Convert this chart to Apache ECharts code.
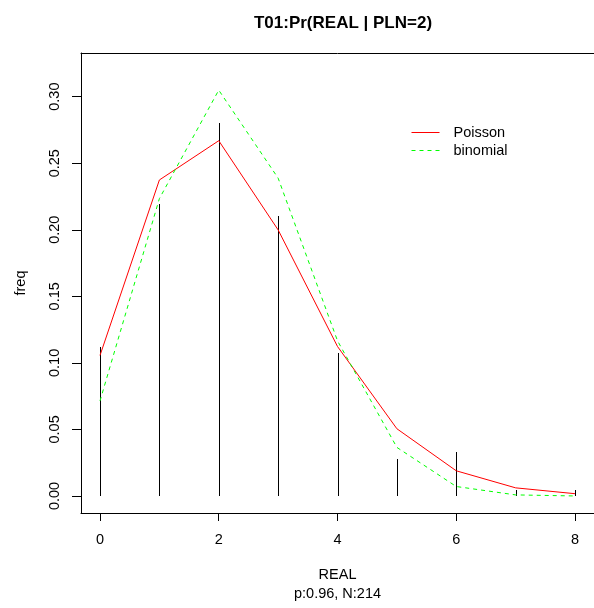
<!DOCTYPE html>
<html>
<head>
<meta charset="utf-8">
<script src="https://cdn.jsdelivr.net/npm/echarts@6/dist/echarts.min.js"></script>
<style>
html,body{margin:0;padding:0;background:#fff;}
#chart{width:594px;height:608px;}
</style>
</head>
<body>
<div id="chart"></div>
<script>
// ---- data ----
const realValues = [0, 1, 2, 3, 4, 5, 6, 7, 8];
const observedFreq = [0.1121, 0.2196, 0.2804, 0.2103, 0.1075, 0.0280, 0.0327, 0.0047, 0.0047];
const poissonFreq = [0.1056, 0.2374, 0.2669, 0.1999, 0.1123, 0.0505, 0.0189, 0.0061, 0.0017];
const binomialFreq = [0.0714, 0.2234, 0.3049, 0.2388, 0.1166, 0.0365, 0.0071, 0.0008, 0.0000];
const xTickValues = [0, 2, 4, 6, 8];
const yTickValues = [0, 0.05, 0.10, 0.15, 0.20, 0.25, 0.30];
const titleText = 'T01:Pr(REAL | PLN=2)';
const xName = 'REAL';
const xSubName = 'p:0.96, N:214';
const yName = 'freq';
const seriesNames = ['Poisson', 'binomial'];

const FONT = '"Liberation Sans", Arial, Helvetica, sans-serif';
const chart = echarts.init(document.getElementById('chart'), null, {renderer: 'canvas'});

const pair = (xs, ys) => xs.map((x, i) => [x, ys[i]]);

const option = {
  animation: false,
  backgroundColor: '#ffffff',
  textStyle: {fontFamily: FONT, color: '#000'},
  title: {
    text: titleText,
    left: 338,
    textAlign: 'center',
    top: 10,
    textStyle: {fontFamily: FONT, fontSize: 17, fontWeight: 'bold', color: '#000'}
  },
  legend: {
    data: seriesNames,
    orient: 'vertical',
    left: 406,
    top: 120,
    itemWidth: 28,
    itemHeight: 14,
    itemGap: 3,
    itemStyle: {opacity: 0},
    lineStyle: {width: 1},
    textStyle: {fontFamily: FONT, fontSize: 14.5, color: '#000', padding: [0, 0, 0, 9]}
  },
  grid: {left: 81, top: 53, width: 513, height: 460, containLabel: false},
  xAxis: [{
    type: 'value',
    min: -0.32,
    max: 8.32,
    splitLine: {show: false},
    axisLine: {show: true, onZero: false, lineStyle: {color: '#000', width: 1}},
    axisTick: {show: true, customValues: xTickValues, length: 8, lineStyle: {color: '#000'}},
    axisLabel: {customValues: xTickValues, margin: 19, fontFamily: FONT, fontSize: 14.5, color: '#000'},
    name: xName + '\n' + xSubName,
    nameLocation: 'middle',
    nameGap: 53,
    nameTextStyle: {fontFamily: FONT, fontSize: 14.5, color: '#000', lineHeight: 18.5}
  }, {
    type: 'value',
    position: 'top',
    min: -0.32,
    max: 8.32,
    splitLine: {show: false},
    axisLine: {show: true, onZero: false, lineStyle: {color: '#000', width: 1}},
    axisTick: {show: false},
    axisLabel: {show: false}
  }],
  yAxis: {
    type: 'value',
    min: -0.0128,
    max: 0.3328,
    splitLine: {show: false},
    axisLine: {show: true, onZero: false, lineStyle: {color: '#000', width: 1}},
    axisTick: {show: true, customValues: yTickValues, length: 9, lineStyle: {color: '#000'}},
    axisLabel: {
      customValues: yTickValues, rotate: 90, margin: 19,
      formatter: v => v.toFixed(2),
      fontFamily: FONT, fontSize: 14.5, color: '#000'
    },
    name: yName,
    nameLocation: 'middle',
    nameRotate: 90,
    nameGap: 53,
    nameTextStyle: {fontFamily: FONT, fontSize: 14.5, color: '#000'}
  },
  series: [
    {
      name: 'observed',
      type: 'custom',
      xAxisIndex: 0,
      data: pair(realValues, observedFreq),
      renderItem: (params, api) => {
        const a = api.coord([api.value(0), 0]);
        const b = api.coord([api.value(0), api.value(1)]);
        const x = Math.round(a[0]) + 0.5;
        return {
          type: 'line',
          shape: {x1: x, y1: Math.round(a[1]), x2: x, y2: Math.round(b[1])},
          style: {stroke: '#000', lineWidth: 1}
        };
      },
      z: 2
    },
    {
      name: seriesNames[0],
      type: 'line',
      data: pair(realValues, poissonFreq),
      symbol: 'none',
      lineStyle: {color: '#ff0000', width: 1},
      itemStyle: {color: '#ff0000'},
      z: 3
    },
    {
      name: seriesNames[1],
      type: 'line',
      data: pair(realValues, binomialFreq),
      symbol: 'none',
      lineStyle: {color: '#00ff00', width: 1, type: [4, 4]},
      itemStyle: {color: '#00ff00'},
      z: 4
    }
  ]
};
chart.setOption(option);
</script>
</body>
</html>
